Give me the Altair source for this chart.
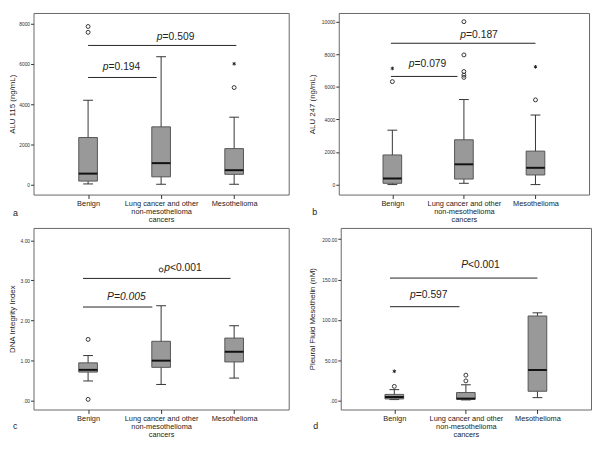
import altair as alt
import pandas as pd

FONT = "Liberation Sans"

cat_pos = [0, 1, 2]
cat_lines = [["Benign"], ["Lung cancer and other", "non-mesothelioma", "cancers"], ["Mesothelioma"]]
panel_letters = ["a", "b", "c", "d"]

# ---------------- Panel a ----------------
a_title = "ALU 115 (ng/mL)"
a_low = [48, 32, 32]
a_q1 = [190, 400, 525]
a_med = [560, 1080, 730]
a_q3 = [2350, 2880, 1800]
a_high = [4200, 6360, 3360]
a_out_pos = [0, 0, 2]
a_out_val = [7570, 7860, 4830]
a_ext_pos = [2]
a_ext_val = [6010]
a_line_x = [0.0, 0.0]
a_line_x2 = [0.94, 2.03]
a_line_y = [5330, 6920]
a_p_head = ["p", "p"]
a_p_tail = ["=0.194", "=0.509"]
a_p_x = [0.28, 1.02]
a_p_y = [5850, 7320]
a_domain = [-480, 8530]
a_ticks = [0, 2000, 4000, 6000, 8000]

# ---------------- Panel b ----------------
b_title = "ALU 247 (ng/mL)"
b_low = [0, 80, 0]
b_q1 = [80, 340, 590]
b_med = [375, 1245, 1030]
b_q3 = [1820, 2750, 2055]
b_high = [3340, 5220, 4270]
b_out_pos = [0, 1, 1, 1, 1, 1, 2]
b_out_val = [6320, 10000, 7960, 6940, 6720, 6580, 5200]
b_ext_pos = [0, 2]
b_ext_val = [7130, 7230]
b_line_x = [-0.02, -0.02]
b_line_x2 = [0.91, 2.0]
b_line_y = [6640, 8676]
b_p_head = ["p", "p"]
b_p_tail = ["=0.079", "=0.187"]
b_p_x = [0.31, 1.03]
b_p_y = [7370, 9150]
b_domain = [-613, 10534]
b_ticks = [0, 2000, 4000, 6000, 8000, 10000]

# ---------------- Panel c ----------------
c_title = "DNA Integrity Index"
c_low = [0.484, 0.397, 0.556]
c_q1 = [0.706, 0.825, 0.960]
c_med = [0.762, 0.992, 1.214]
c_q3 = [0.937, 1.476, 1.556]
c_high = [1.119, 2.365, 1.865]
c_out_pos = [0, 0, 1]
c_out_val = [1.524, 0.024, 3.26]
c_ext_pos = []
c_ext_val = []
c_line_x = [-0.07, -0.07]
c_line_x2 = [0.88, 1.95]
c_line_y = [2.333, 3.048]
c_p_head = ["P=0.005", "p"]
c_p_tail = ["", "<0.001"]
c_p_x = [0.79, 1.12]
c_p_y = [2.571, 3.317]
c_domain = [-0.23, 4.31]
c_ticks = [0, 1, 2, 3, 4]

# ---------------- Panel d ----------------
d_title = "Pleural Fluid Mesothelin (nM)"
d_low = [1.6, 1.2, 4.0]
d_q1 = [2.4, 2.0, 11.9]
d_med = [4.8, 2.8, 38.2]
d_q3 = [8.0, 10.3, 105.0]
d_high = [13.9, 19.9, 108.9]
d_out_pos = [0, 1, 1]
d_out_val = [17.9, 31.8, 24.7]
d_ext_pos = [0]
d_ext_val = [36.6]
d_line_x = [-0.06, -0.06]
d_line_x2 = [0.91, 2.0]
d_line_y = [116.5, 151.9]
d_p_head = ["p", "P"]
d_p_tail = ["=0.597", "<0.001"]
d_p_x = [0.30, 1.03]
d_p_y = [131.0, 167.8]
d_domain = [-10.7, 213.9]
d_ticks = [0, 50, 100, 150, 200]

STAR = "M0,-1L0,1M-0.87,-0.5L0.87,0.5M-0.87,0.5L0.87,-0.5"


def js_label(lines):
    if len(lines) == 1:
        return "'" + lines[0] + "'"
    return "[" + ", ".join("'" + s + "'" for s in lines) + "]"


x_label_expr = (
    "datum.value == 0 ? " + js_label(cat_lines[0]) +
    " : datum.value == 1 ? " + js_label(cat_lines[1]) +
    " : " + js_label(cat_lines[2])
)


def panel(letter, ytitle, low, q1, med, q3, high, out_pos, out_val, ext_pos, ext_val,
          lx, lx2, ly, ph, pt, px, py, domain, ticks, ylabel_expr,
          width, height, title_x, letter_dx, letter_dy):
    xscale = alt.Scale(domain=[-0.68, 2.68], nice=False, zero=False)
    xaxis = alt.Axis(values=cat_pos, labelExpr=x_label_expr, title=None, grid=False,
                     domain=False, ticks=True, tickSize=4, tickColor="#333",
                     labelFont=FONT, labelFontSize=7.5, labelLineHeight=8,
                     labelPadding=1, labelColor="#222", labelAngle=0,
                     labelOverlap=False, labelFlush=False, minExtent=0)
    yscale = alt.Scale(domain=domain, nice=False, zero=False)
    yaxis = alt.Axis(values=ticks, labelExpr=ylabel_expr, title=ytitle, grid=False,
                     domain=False, tickSize=3, tickColor="#333",
                     labelFont=FONT, labelFontSize=5, labelPadding=1,
                     labelColor="#333", labelOverlap=False, labelFlush=False,
                     titleFont=FONT, titleFontSize=8, titleFontWeight="normal",
                     titleColor="#222", titleX=title_x, titleBaseline="middle",
                     minExtent=0)

    def X(f):
        return alt.X(f, type="quantitative", scale=xscale, axis=xaxis)

    def Y(f):
        return alt.Y(f, type="quantitative", scale=yscale, axis=yaxis)

    box = pd.DataFrame(dict(pos=cat_pos, low=low, q1=q1, med=med, q3=q3, high=high))
    base = alt.Chart(box)
    whisker = base.mark_rule(color="#333", strokeWidth=1).encode(x=X("pos"), y=Y("low"), y2=alt.Y2("high"))
    cap_lo = base.mark_tick(orient="horizontal", size=10, thickness=1, color="#333", opacity=1).encode(x=X("pos"), y=Y("low"))
    cap_hi = base.mark_tick(orient="horizontal", size=10, thickness=1, color="#333", opacity=1).encode(x=X("pos"), y=Y("high"))
    bar = base.mark_bar(size=19, fill="#999999", stroke="#555555", strokeWidth=1).encode(
        x=X("pos"), y=Y("q1"), y2=alt.Y2("q3"))
    median = base.mark_tick(orient="horizontal", size=19, thickness=2, color="#111", opacity=1).encode(
        x=X("pos"), y=Y("med"))
    layers = [whisker, cap_lo, cap_hi, bar, median]

    if out_pos:
        out = pd.DataFrame(dict(pos=out_pos, val=out_val))
        layers.append(alt.Chart(out).mark_point(shape="circle", filled=False, size=16,
                                                strokeWidth=1, color="#333", opacity=1).encode(
            x=X("pos"), y=Y("val")))
    if ext_pos:
        ext = pd.DataFrame(dict(pos=ext_pos, val=ext_val))
        layers.append(alt.Chart(ext).mark_point(shape=STAR, filled=False, size=14,
                                                strokeWidth=1, color="#222", opacity=1).encode(
            x=X("pos"), y=Y("val")))

    lines = pd.DataFrame(dict(x=lx, x2=lx2, y=ly))
    layers.append(alt.Chart(lines).mark_rule(color="#222", strokeWidth=1).encode(
        x=X("x"), x2=alt.X2("x2"), y=Y("y")))

    ptxt = pd.DataFrame(dict(x=px, y=py, head=ph, tail=pt))
    layers.append(alt.Chart(ptxt).mark_text(font=FONT, fontSize=10.5, fontStyle="italic",
                                            align="right", baseline="middle", color="#222").encode(
        x=X("x"), y=Y("y"), text="head:N"))
    layers.append(alt.Chart(ptxt).mark_text(font=FONT, fontSize=10.5,
                                            align="left", baseline="middle", color="#222").encode(
        x=X("x"), y=Y("y"), text="tail:N"))

    lab = pd.DataFrame(dict(t=[letter]))
    layers.append(alt.Chart(lab).mark_text(font=FONT, fontSize=9, align="left",
                                           baseline="middle", color="#222").encode(
        x=alt.value(letter_dx), y=alt.value(height + letter_dy), text="t:N"))

    return alt.layer(*layers).properties(width=width, height=height)


int_expr = "format(datum.value, 'd')"
dec_expr = "datum.value == 0 ? '.00' : format(datum.value, '.2f')"

H = 185
pa = panel(panel_letters[0], a_title, a_low, a_q1, a_med, a_q3, a_high, a_out_pos, a_out_val,
           a_ext_pos, a_ext_val, a_line_x, a_line_x2, a_line_y, a_p_head, a_p_tail, a_p_x, a_p_y,
           a_domain, a_ticks, int_expr, 260, H, -21, -21, 19)
pb = panel(panel_letters[1], b_title, b_low, b_q1, b_med, b_q3, b_high, b_out_pos, b_out_val,
           b_ext_pos, b_ext_val, b_line_x, b_line_x2, b_line_y, b_p_head, b_p_tail, b_p_x, b_p_y,
           b_domain, b_ticks, int_expr, 255, H, -27, -27, 18)
pc = panel(panel_letters[2], c_title, c_low, c_q1, c_med, c_q3, c_high, c_out_pos, c_out_val,
           c_ext_pos, c_ext_val, c_line_x, c_line_x2, c_line_y, c_p_head, c_p_tail, c_p_x, c_p_y,
           c_domain, c_ticks, dec_expr, 260, H, -21, -21, 17)
pd_ = panel(panel_letters[3], d_title, d_low, d_q1, d_med, d_q3, d_high, d_out_pos, d_out_val,
            d_ext_pos, d_ext_val, d_line_x, d_line_x2, d_line_y, d_p_head, d_p_tail, d_p_x, d_p_y,
            d_domain, d_ticks, dec_expr, 255, H, -29, -28, 17)

top = alt.hconcat(pa, pb, spacing=18)
bottom = alt.hconcat(pc, pd_, spacing=18)
chart = alt.vconcat(top, bottom, spacing=4).properties(
    padding={"left": 0, "top": 0, "right": 0, "bottom": 0}, background="white"
).configure_view(stroke="#666666", strokeWidth=1)

chart.save("out.html", embed_options={"renderer": "svg", "actions": False})
